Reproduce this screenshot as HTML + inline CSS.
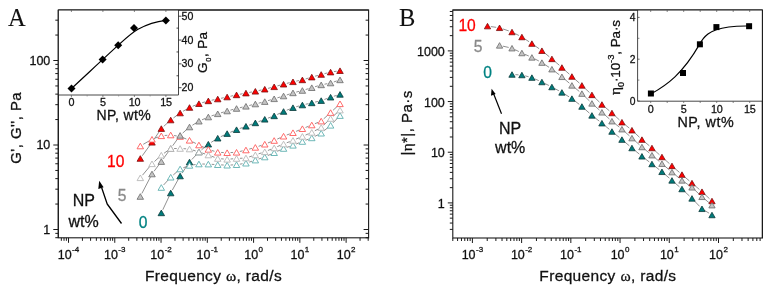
<!DOCTYPE html>
<html><head><meta charset="utf-8"><style>
html,body{margin:0;padding:0;background:#fff;width:771px;height:289px;overflow:hidden;}
svg{display:block;font-family:"Liberation Sans", sans-serif;will-change:transform;}
</style></head><body>
<svg width="771" height="289" viewBox="0 0 771 289">
<rect width="771" height="289" fill="#ffffff"/>
<rect x="58.3" y="10.0" width="310.30" height="227.80" fill="none" stroke="#1a1a1a" stroke-width="1.1"/>
<line x1="68.50" y1="237.80" x2="68.50" y2="242.80" stroke="#1a1a1a" stroke-width="1.0"/>
<line x1="114.77" y1="237.80" x2="114.77" y2="242.80" stroke="#1a1a1a" stroke-width="1.0"/>
<line x1="161.04" y1="237.80" x2="161.04" y2="242.80" stroke="#1a1a1a" stroke-width="1.0"/>
<line x1="207.31" y1="237.80" x2="207.31" y2="242.80" stroke="#1a1a1a" stroke-width="1.0"/>
<line x1="253.58" y1="237.80" x2="253.58" y2="242.80" stroke="#1a1a1a" stroke-width="1.0"/>
<line x1="299.85" y1="237.80" x2="299.85" y2="242.80" stroke="#1a1a1a" stroke-width="1.0"/>
<line x1="346.12" y1="237.80" x2="346.12" y2="242.80" stroke="#1a1a1a" stroke-width="1.0"/>
<line x1="61.33" y1="237.80" x2="61.33" y2="240.80" stroke="#1a1a1a" stroke-width="1.0"/>
<line x1="64.02" y1="237.80" x2="64.02" y2="240.80" stroke="#1a1a1a" stroke-width="1.0"/>
<line x1="66.38" y1="237.80" x2="66.38" y2="240.80" stroke="#1a1a1a" stroke-width="1.0"/>
<line x1="82.43" y1="237.80" x2="82.43" y2="240.80" stroke="#1a1a1a" stroke-width="1.0"/>
<line x1="90.58" y1="237.80" x2="90.58" y2="240.80" stroke="#1a1a1a" stroke-width="1.0"/>
<line x1="96.36" y1="237.80" x2="96.36" y2="240.80" stroke="#1a1a1a" stroke-width="1.0"/>
<line x1="100.84" y1="237.80" x2="100.84" y2="240.80" stroke="#1a1a1a" stroke-width="1.0"/>
<line x1="104.51" y1="237.80" x2="104.51" y2="240.80" stroke="#1a1a1a" stroke-width="1.0"/>
<line x1="107.60" y1="237.80" x2="107.60" y2="240.80" stroke="#1a1a1a" stroke-width="1.0"/>
<line x1="110.29" y1="237.80" x2="110.29" y2="240.80" stroke="#1a1a1a" stroke-width="1.0"/>
<line x1="112.65" y1="237.80" x2="112.65" y2="240.80" stroke="#1a1a1a" stroke-width="1.0"/>
<line x1="128.70" y1="237.80" x2="128.70" y2="240.80" stroke="#1a1a1a" stroke-width="1.0"/>
<line x1="136.85" y1="237.80" x2="136.85" y2="240.80" stroke="#1a1a1a" stroke-width="1.0"/>
<line x1="142.63" y1="237.80" x2="142.63" y2="240.80" stroke="#1a1a1a" stroke-width="1.0"/>
<line x1="147.11" y1="237.80" x2="147.11" y2="240.80" stroke="#1a1a1a" stroke-width="1.0"/>
<line x1="150.78" y1="237.80" x2="150.78" y2="240.80" stroke="#1a1a1a" stroke-width="1.0"/>
<line x1="153.87" y1="237.80" x2="153.87" y2="240.80" stroke="#1a1a1a" stroke-width="1.0"/>
<line x1="156.56" y1="237.80" x2="156.56" y2="240.80" stroke="#1a1a1a" stroke-width="1.0"/>
<line x1="158.92" y1="237.80" x2="158.92" y2="240.80" stroke="#1a1a1a" stroke-width="1.0"/>
<line x1="174.97" y1="237.80" x2="174.97" y2="240.80" stroke="#1a1a1a" stroke-width="1.0"/>
<line x1="183.12" y1="237.80" x2="183.12" y2="240.80" stroke="#1a1a1a" stroke-width="1.0"/>
<line x1="188.90" y1="237.80" x2="188.90" y2="240.80" stroke="#1a1a1a" stroke-width="1.0"/>
<line x1="193.38" y1="237.80" x2="193.38" y2="240.80" stroke="#1a1a1a" stroke-width="1.0"/>
<line x1="197.05" y1="237.80" x2="197.05" y2="240.80" stroke="#1a1a1a" stroke-width="1.0"/>
<line x1="200.14" y1="237.80" x2="200.14" y2="240.80" stroke="#1a1a1a" stroke-width="1.0"/>
<line x1="202.83" y1="237.80" x2="202.83" y2="240.80" stroke="#1a1a1a" stroke-width="1.0"/>
<line x1="205.19" y1="237.80" x2="205.19" y2="240.80" stroke="#1a1a1a" stroke-width="1.0"/>
<line x1="221.24" y1="237.80" x2="221.24" y2="240.80" stroke="#1a1a1a" stroke-width="1.0"/>
<line x1="229.39" y1="237.80" x2="229.39" y2="240.80" stroke="#1a1a1a" stroke-width="1.0"/>
<line x1="235.17" y1="237.80" x2="235.17" y2="240.80" stroke="#1a1a1a" stroke-width="1.0"/>
<line x1="239.65" y1="237.80" x2="239.65" y2="240.80" stroke="#1a1a1a" stroke-width="1.0"/>
<line x1="243.32" y1="237.80" x2="243.32" y2="240.80" stroke="#1a1a1a" stroke-width="1.0"/>
<line x1="246.41" y1="237.80" x2="246.41" y2="240.80" stroke="#1a1a1a" stroke-width="1.0"/>
<line x1="249.10" y1="237.80" x2="249.10" y2="240.80" stroke="#1a1a1a" stroke-width="1.0"/>
<line x1="251.46" y1="237.80" x2="251.46" y2="240.80" stroke="#1a1a1a" stroke-width="1.0"/>
<line x1="267.51" y1="237.80" x2="267.51" y2="240.80" stroke="#1a1a1a" stroke-width="1.0"/>
<line x1="275.66" y1="237.80" x2="275.66" y2="240.80" stroke="#1a1a1a" stroke-width="1.0"/>
<line x1="281.44" y1="237.80" x2="281.44" y2="240.80" stroke="#1a1a1a" stroke-width="1.0"/>
<line x1="285.92" y1="237.80" x2="285.92" y2="240.80" stroke="#1a1a1a" stroke-width="1.0"/>
<line x1="289.59" y1="237.80" x2="289.59" y2="240.80" stroke="#1a1a1a" stroke-width="1.0"/>
<line x1="292.68" y1="237.80" x2="292.68" y2="240.80" stroke="#1a1a1a" stroke-width="1.0"/>
<line x1="295.37" y1="237.80" x2="295.37" y2="240.80" stroke="#1a1a1a" stroke-width="1.0"/>
<line x1="297.73" y1="237.80" x2="297.73" y2="240.80" stroke="#1a1a1a" stroke-width="1.0"/>
<line x1="313.78" y1="237.80" x2="313.78" y2="240.80" stroke="#1a1a1a" stroke-width="1.0"/>
<line x1="321.93" y1="237.80" x2="321.93" y2="240.80" stroke="#1a1a1a" stroke-width="1.0"/>
<line x1="327.71" y1="237.80" x2="327.71" y2="240.80" stroke="#1a1a1a" stroke-width="1.0"/>
<line x1="332.19" y1="237.80" x2="332.19" y2="240.80" stroke="#1a1a1a" stroke-width="1.0"/>
<line x1="335.86" y1="237.80" x2="335.86" y2="240.80" stroke="#1a1a1a" stroke-width="1.0"/>
<line x1="338.95" y1="237.80" x2="338.95" y2="240.80" stroke="#1a1a1a" stroke-width="1.0"/>
<line x1="341.64" y1="237.80" x2="341.64" y2="240.80" stroke="#1a1a1a" stroke-width="1.0"/>
<line x1="344.00" y1="237.80" x2="344.00" y2="240.80" stroke="#1a1a1a" stroke-width="1.0"/>
<line x1="360.05" y1="237.80" x2="360.05" y2="240.80" stroke="#1a1a1a" stroke-width="1.0"/>
<line x1="368.20" y1="237.80" x2="368.20" y2="240.80" stroke="#1a1a1a" stroke-width="1.0"/>
<line x1="53.30" y1="229.50" x2="58.30" y2="229.50" stroke="#1a1a1a" stroke-width="1.0"/>
<line x1="363.60" y1="229.50" x2="368.60" y2="229.50" stroke="#1a1a1a" stroke-width="1.0"/>
<line x1="53.30" y1="145.00" x2="58.30" y2="145.00" stroke="#1a1a1a" stroke-width="1.0"/>
<line x1="363.60" y1="145.00" x2="368.60" y2="145.00" stroke="#1a1a1a" stroke-width="1.0"/>
<line x1="53.30" y1="60.50" x2="58.30" y2="60.50" stroke="#1a1a1a" stroke-width="1.0"/>
<line x1="363.60" y1="60.50" x2="368.60" y2="60.50" stroke="#1a1a1a" stroke-width="1.0"/>
<line x1="55.30" y1="237.69" x2="58.30" y2="237.69" stroke="#1a1a1a" stroke-width="1.0"/>
<line x1="365.60" y1="237.69" x2="368.60" y2="237.69" stroke="#1a1a1a" stroke-width="1.0"/>
<line x1="55.30" y1="233.37" x2="58.30" y2="233.37" stroke="#1a1a1a" stroke-width="1.0"/>
<line x1="365.60" y1="233.37" x2="368.60" y2="233.37" stroke="#1a1a1a" stroke-width="1.0"/>
<line x1="55.30" y1="204.06" x2="58.30" y2="204.06" stroke="#1a1a1a" stroke-width="1.0"/>
<line x1="365.60" y1="204.06" x2="368.60" y2="204.06" stroke="#1a1a1a" stroke-width="1.0"/>
<line x1="55.30" y1="189.18" x2="58.30" y2="189.18" stroke="#1a1a1a" stroke-width="1.0"/>
<line x1="365.60" y1="189.18" x2="368.60" y2="189.18" stroke="#1a1a1a" stroke-width="1.0"/>
<line x1="55.30" y1="178.63" x2="58.30" y2="178.63" stroke="#1a1a1a" stroke-width="1.0"/>
<line x1="365.60" y1="178.63" x2="368.60" y2="178.63" stroke="#1a1a1a" stroke-width="1.0"/>
<line x1="55.30" y1="170.44" x2="58.30" y2="170.44" stroke="#1a1a1a" stroke-width="1.0"/>
<line x1="365.60" y1="170.44" x2="368.60" y2="170.44" stroke="#1a1a1a" stroke-width="1.0"/>
<line x1="55.30" y1="163.75" x2="58.30" y2="163.75" stroke="#1a1a1a" stroke-width="1.0"/>
<line x1="365.60" y1="163.75" x2="368.60" y2="163.75" stroke="#1a1a1a" stroke-width="1.0"/>
<line x1="55.30" y1="158.09" x2="58.30" y2="158.09" stroke="#1a1a1a" stroke-width="1.0"/>
<line x1="365.60" y1="158.09" x2="368.60" y2="158.09" stroke="#1a1a1a" stroke-width="1.0"/>
<line x1="55.30" y1="153.19" x2="58.30" y2="153.19" stroke="#1a1a1a" stroke-width="1.0"/>
<line x1="365.60" y1="153.19" x2="368.60" y2="153.19" stroke="#1a1a1a" stroke-width="1.0"/>
<line x1="55.30" y1="148.87" x2="58.30" y2="148.87" stroke="#1a1a1a" stroke-width="1.0"/>
<line x1="365.60" y1="148.87" x2="368.60" y2="148.87" stroke="#1a1a1a" stroke-width="1.0"/>
<line x1="55.30" y1="119.56" x2="58.30" y2="119.56" stroke="#1a1a1a" stroke-width="1.0"/>
<line x1="365.60" y1="119.56" x2="368.60" y2="119.56" stroke="#1a1a1a" stroke-width="1.0"/>
<line x1="55.30" y1="104.68" x2="58.30" y2="104.68" stroke="#1a1a1a" stroke-width="1.0"/>
<line x1="365.60" y1="104.68" x2="368.60" y2="104.68" stroke="#1a1a1a" stroke-width="1.0"/>
<line x1="55.30" y1="94.13" x2="58.30" y2="94.13" stroke="#1a1a1a" stroke-width="1.0"/>
<line x1="365.60" y1="94.13" x2="368.60" y2="94.13" stroke="#1a1a1a" stroke-width="1.0"/>
<line x1="55.30" y1="85.94" x2="58.30" y2="85.94" stroke="#1a1a1a" stroke-width="1.0"/>
<line x1="365.60" y1="85.94" x2="368.60" y2="85.94" stroke="#1a1a1a" stroke-width="1.0"/>
<line x1="55.30" y1="79.25" x2="58.30" y2="79.25" stroke="#1a1a1a" stroke-width="1.0"/>
<line x1="365.60" y1="79.25" x2="368.60" y2="79.25" stroke="#1a1a1a" stroke-width="1.0"/>
<line x1="55.30" y1="73.59" x2="58.30" y2="73.59" stroke="#1a1a1a" stroke-width="1.0"/>
<line x1="365.60" y1="73.59" x2="368.60" y2="73.59" stroke="#1a1a1a" stroke-width="1.0"/>
<line x1="55.30" y1="68.69" x2="58.30" y2="68.69" stroke="#1a1a1a" stroke-width="1.0"/>
<line x1="365.60" y1="68.69" x2="368.60" y2="68.69" stroke="#1a1a1a" stroke-width="1.0"/>
<line x1="55.30" y1="64.37" x2="58.30" y2="64.37" stroke="#1a1a1a" stroke-width="1.0"/>
<line x1="365.60" y1="64.37" x2="368.60" y2="64.37" stroke="#1a1a1a" stroke-width="1.0"/>
<line x1="55.30" y1="35.06" x2="58.30" y2="35.06" stroke="#1a1a1a" stroke-width="1.0"/>
<line x1="365.60" y1="35.06" x2="368.60" y2="35.06" stroke="#1a1a1a" stroke-width="1.0"/>
<line x1="55.30" y1="20.18" x2="58.30" y2="20.18" stroke="#1a1a1a" stroke-width="1.0"/>
<line x1="365.60" y1="20.18" x2="368.60" y2="20.18" stroke="#1a1a1a" stroke-width="1.0"/>
<text stroke="#111" stroke-width="0.28" x="68.50" y="258.8" font-size="12.5" text-anchor="middle" fill="#111" font-family='"Liberation Sans", sans-serif'>10<tspan font-size="8" dy="-6.3" dx="0.4">-4</tspan></text>
<text stroke="#111" stroke-width="0.28" x="114.77" y="258.8" font-size="12.5" text-anchor="middle" fill="#111" font-family='"Liberation Sans", sans-serif'>10<tspan font-size="8" dy="-6.3" dx="0.4">-3</tspan></text>
<text stroke="#111" stroke-width="0.28" x="161.04" y="258.8" font-size="12.5" text-anchor="middle" fill="#111" font-family='"Liberation Sans", sans-serif'>10<tspan font-size="8" dy="-6.3" dx="0.4">-2</tspan></text>
<text stroke="#111" stroke-width="0.28" x="207.31" y="258.8" font-size="12.5" text-anchor="middle" fill="#111" font-family='"Liberation Sans", sans-serif'>10<tspan font-size="8" dy="-6.3" dx="0.4">-1</tspan></text>
<text stroke="#111" stroke-width="0.28" x="253.58" y="258.8" font-size="12.5" text-anchor="middle" fill="#111" font-family='"Liberation Sans", sans-serif'>10<tspan font-size="8" dy="-6.3" dx="0.4">0</tspan></text>
<text stroke="#111" stroke-width="0.28" x="299.85" y="258.8" font-size="12.5" text-anchor="middle" fill="#111" font-family='"Liberation Sans", sans-serif'>10<tspan font-size="8" dy="-6.3" dx="0.4">1</tspan></text>
<text stroke="#111" stroke-width="0.28" x="346.12" y="258.8" font-size="12.5" text-anchor="middle" fill="#111" font-family='"Liberation Sans", sans-serif'>10<tspan font-size="8" dy="-6.3" dx="0.4">2</tspan></text>
<text stroke="#111" stroke-width="0.28" x="50.30" y="233.60" font-size="12.5" text-anchor="end" fill="#111" font-family='"Liberation Sans", sans-serif' >1</text>
<text stroke="#111" stroke-width="0.28" x="50.30" y="149.10" font-size="12.5" text-anchor="end" fill="#111" font-family='"Liberation Sans", sans-serif' >10</text>
<text stroke="#111" stroke-width="0.28" x="50.30" y="64.60" font-size="12.5" text-anchor="end" fill="#111" font-family='"Liberation Sans", sans-serif' >100</text>
<path d="M142.29,155.74L150.01,145.06M153.91,139.49L159.39,131.41M163.81,126.31L168.20,122.29M173.43,117.97L177.38,115.03M183.04,111.28L186.58,109.22M192.67,106.23L195.77,104.97M202.18,102.73L205.07,101.87M211.66,100.23L214.40,99.67M221.06,98.29L223.81,97.71M230.45,96.26L233.22,95.64M239.88,94.26L242.61,93.74M249.28,92.46L252.01,91.94M258.67,90.56L261.44,89.94M268.05,88.36L270.87,87.64M277.44,85.89L280.29,85.11M286.86,83.36L289.68,82.64M296.30,81.13L299.04,80.57M305.63,78.93L308.52,78.07M315.06,76.19L317.91,75.41M324.48,73.66L327.30,72.94M333.95,71.60L336.63,71.20" fill="none" stroke="#555555" stroke-width="0.65"/>
<path d="M143.25,144.31L149.05,140.99M155.18,138.10L158.12,137.00M164.69,135.51L167.32,135.29M174.06,135.54L176.75,135.96M183.26,137.77L186.36,139.03M192.56,141.82L195.88,143.48M202.00,146.44L205.25,147.96M211.57,150.40L214.48,151.30M221.13,152.44L223.74,152.56M230.53,152.56L233.14,152.44M239.84,151.49L242.64,150.81M249.22,149.09L252.07,148.31M258.57,146.30L261.54,145.30M267.92,142.96L271.00,141.74M277.25,139.09L280.47,137.61M286.75,135.01L289.78,133.89M296.10,131.37L299.25,130.03M305.54,127.46L308.62,126.24M314.92,123.70L318.04,122.40M323.71,118.82L328.07,114.88M333.07,110.28L337.51,106.12" fill="none" stroke="#555555" stroke-width="0.65"/>
<path d="M141.87,193.48L150.43,177.02M154.04,171.28L159.26,164.32M163.28,158.84L168.72,151.26M172.69,145.74L178.13,138.16M182.65,133.14L186.98,129.26M192.41,125.22L196.03,122.98M202.02,119.81L205.22,118.39M211.54,115.90L214.51,114.90M220.99,112.83L223.88,111.97M230.42,110.13L233.25,109.37M239.85,107.73L242.63,107.07M249.25,105.49L252.05,104.81M258.64,103.16L261.46,102.44M268.01,100.63L270.90,99.77M277.42,97.83L280.31,96.97M286.79,94.94L289.74,93.96M296.26,92.06L299.08,91.34M305.63,89.53L308.52,88.67M315.04,86.73L317.93,85.87M324.52,84.23L327.26,83.67M333.82,81.94L336.77,80.96" fill="none" stroke="#555555" stroke-width="0.65"/>
<path d="M142.48,175.19L149.82,166.41M154.50,161.49L158.80,157.51M164.07,153.23L167.94,150.47M174.11,148.50L176.71,148.50M183.51,148.68L186.12,148.82M192.75,150.03L195.68,150.97M202.16,153.03L205.09,153.97M211.51,156.19L214.54,157.31M221.12,158.79L223.75,159.01M230.52,159.01L233.15,158.79M239.94,158.32L242.55,158.18M249.17,156.94L252.12,155.96M258.58,153.84L261.53,152.86M267.90,150.50L271.02,149.20M277.30,146.60L280.42,145.30M286.74,142.78L289.79,141.62M296.10,139.07L299.25,137.73M305.50,135.07L308.65,133.73M314.80,130.83L318.17,129.07M323.64,125.15L328.13,120.85M333.13,116.24L337.46,112.36" fill="none" stroke="#555555" stroke-width="0.65"/>
<path d="M162.75,209.83L169.25,196.07M172.35,190.02L178.46,178.98M182.01,173.18L187.62,164.82M191.84,159.52L196.59,154.48M201.54,149.83L205.71,146.37M211.19,142.37L214.86,140.03M220.78,136.71L224.08,135.09M230.28,132.30L233.40,131.00M239.74,128.54L242.75,127.46M249.14,125.14L252.15,124.06M258.53,121.68L261.58,120.52M267.95,118.14L270.96,117.06M277.24,114.46L280.49,112.94M286.72,110.23L289.82,108.97M296.24,106.76L299.11,105.94M305.69,104.26L308.46,103.64M315.08,102.09L317.88,101.41M324.38,99.44L327.39,98.36M333.85,96.23L336.74,95.37" fill="none" stroke="#555555" stroke-width="0.65"/>
<path d="M163.59,184.99L168.41,179.71M173.27,174.97L177.55,171.23M183.29,167.78L186.34,166.62M192.88,164.90L195.56,164.50M202.32,164.04L204.93,164.06M211.72,164.32L214.34,164.48M221.13,164.88L223.74,165.02M230.53,165.02L233.14,164.88M239.90,164.16L242.59,163.74M249.17,162.14L252.12,161.16M258.58,159.04L261.53,158.06M267.85,155.59L271.07,154.11M277.26,151.31L280.46,149.89M286.78,147.40L289.75,146.40M296.12,144.03L299.22,142.77M305.55,140.28L308.60,139.12M314.82,136.38L318.14,134.72M323.79,131.01L327.99,127.49M332.96,122.86L337.63,118.04" fill="none" stroke="#555555" stroke-width="0.65"/>
<polygon points="161.30,210.10 158.05,215.70 164.55,215.70" fill="#007b7b" stroke="#0a3a3a" stroke-width="0.8" stroke-linejoin="miter"/>
<polygon points="170.71,190.20 167.46,195.80 173.96,195.80" fill="#007b7b" stroke="#0a3a3a" stroke-width="0.8" stroke-linejoin="miter"/>
<polygon points="180.11,173.20 176.86,178.80 183.36,178.80" fill="#007b7b" stroke="#0a3a3a" stroke-width="0.8" stroke-linejoin="miter"/>
<polygon points="189.52,159.20 186.27,164.80 192.77,164.80" fill="#007b7b" stroke="#0a3a3a" stroke-width="0.8" stroke-linejoin="miter"/>
<polygon points="198.92,149.20 195.67,154.80 202.17,154.80" fill="#007b7b" stroke="#0a3a3a" stroke-width="0.8" stroke-linejoin="miter"/>
<polygon points="208.33,141.40 205.08,147.00 211.58,147.00" fill="#007b7b" stroke="#0a3a3a" stroke-width="0.8" stroke-linejoin="miter"/>
<polygon points="217.73,135.40 214.48,141.00 220.98,141.00" fill="#007b7b" stroke="#0a3a3a" stroke-width="0.8" stroke-linejoin="miter"/>
<polygon points="227.13,130.80 223.88,136.40 230.38,136.40" fill="#007b7b" stroke="#0a3a3a" stroke-width="0.8" stroke-linejoin="miter"/>
<polygon points="236.54,126.90 233.29,132.50 239.79,132.50" fill="#007b7b" stroke="#0a3a3a" stroke-width="0.8" stroke-linejoin="miter"/>
<polygon points="245.94,123.50 242.69,129.10 249.19,129.10" fill="#007b7b" stroke="#0a3a3a" stroke-width="0.8" stroke-linejoin="miter"/>
<polygon points="255.35,120.10 252.10,125.70 258.60,125.70" fill="#007b7b" stroke="#0a3a3a" stroke-width="0.8" stroke-linejoin="miter"/>
<polygon points="264.75,116.50 261.50,122.10 268.00,122.10" fill="#007b7b" stroke="#0a3a3a" stroke-width="0.8" stroke-linejoin="miter"/>
<polygon points="274.16,113.10 270.91,118.70 277.41,118.70" fill="#007b7b" stroke="#0a3a3a" stroke-width="0.8" stroke-linejoin="miter"/>
<polygon points="283.56,108.70 280.31,114.30 286.81,114.30" fill="#007b7b" stroke="#0a3a3a" stroke-width="0.8" stroke-linejoin="miter"/>
<polygon points="292.97,104.90 289.72,110.50 296.22,110.50" fill="#007b7b" stroke="#0a3a3a" stroke-width="0.8" stroke-linejoin="miter"/>
<polygon points="302.38,102.20 299.12,107.80 305.62,107.80" fill="#007b7b" stroke="#0a3a3a" stroke-width="0.8" stroke-linejoin="miter"/>
<polygon points="311.78,100.10 308.53,105.70 315.03,105.70" fill="#007b7b" stroke="#0a3a3a" stroke-width="0.8" stroke-linejoin="miter"/>
<polygon points="321.19,97.80 317.94,103.40 324.44,103.40" fill="#007b7b" stroke="#0a3a3a" stroke-width="0.8" stroke-linejoin="miter"/>
<polygon points="330.59,94.40 327.34,100.00 333.84,100.00" fill="#007b7b" stroke="#0a3a3a" stroke-width="0.8" stroke-linejoin="miter"/>
<polygon points="340.00,91.60 336.75,97.20 343.25,97.20" fill="#007b7b" stroke="#0a3a3a" stroke-width="0.8" stroke-linejoin="miter"/>
<polygon points="161.30,184.70 158.05,190.30 164.55,190.30" fill="#ffffff" stroke="#5fb0b0" stroke-width="0.9" stroke-linejoin="miter"/>
<polygon points="170.71,174.40 167.46,180.00 173.96,180.00" fill="#ffffff" stroke="#5fb0b0" stroke-width="0.9" stroke-linejoin="miter"/>
<polygon points="180.11,166.20 176.86,171.80 183.36,171.80" fill="#ffffff" stroke="#5fb0b0" stroke-width="0.9" stroke-linejoin="miter"/>
<polygon points="189.52,162.60 186.27,168.20 192.77,168.20" fill="#ffffff" stroke="#5fb0b0" stroke-width="0.9" stroke-linejoin="miter"/>
<polygon points="198.92,161.20 195.67,166.80 202.17,166.80" fill="#ffffff" stroke="#5fb0b0" stroke-width="0.9" stroke-linejoin="miter"/>
<polygon points="208.33,161.30 205.08,166.90 211.58,166.90" fill="#ffffff" stroke="#5fb0b0" stroke-width="0.9" stroke-linejoin="miter"/>
<polygon points="217.73,161.90 214.48,167.50 220.98,167.50" fill="#ffffff" stroke="#5fb0b0" stroke-width="0.9" stroke-linejoin="miter"/>
<polygon points="227.13,162.40 223.88,168.00 230.38,168.00" fill="#ffffff" stroke="#5fb0b0" stroke-width="0.9" stroke-linejoin="miter"/>
<polygon points="236.54,161.90 233.29,167.50 239.79,167.50" fill="#ffffff" stroke="#5fb0b0" stroke-width="0.9" stroke-linejoin="miter"/>
<polygon points="245.94,160.40 242.69,166.00 249.19,166.00" fill="#ffffff" stroke="#5fb0b0" stroke-width="0.9" stroke-linejoin="miter"/>
<polygon points="255.35,157.30 252.10,162.90 258.60,162.90" fill="#ffffff" stroke="#5fb0b0" stroke-width="0.9" stroke-linejoin="miter"/>
<polygon points="264.75,154.20 261.50,159.80 268.00,159.80" fill="#ffffff" stroke="#5fb0b0" stroke-width="0.9" stroke-linejoin="miter"/>
<polygon points="274.16,149.90 270.91,155.50 277.41,155.50" fill="#ffffff" stroke="#5fb0b0" stroke-width="0.9" stroke-linejoin="miter"/>
<polygon points="283.56,145.70 280.31,151.30 286.81,151.30" fill="#ffffff" stroke="#5fb0b0" stroke-width="0.9" stroke-linejoin="miter"/>
<polygon points="292.97,142.50 289.72,148.10 296.22,148.10" fill="#ffffff" stroke="#5fb0b0" stroke-width="0.9" stroke-linejoin="miter"/>
<polygon points="302.38,138.70 299.12,144.30 305.62,144.30" fill="#ffffff" stroke="#5fb0b0" stroke-width="0.9" stroke-linejoin="miter"/>
<polygon points="311.78,135.10 308.53,140.70 315.03,140.70" fill="#ffffff" stroke="#5fb0b0" stroke-width="0.9" stroke-linejoin="miter"/>
<polygon points="321.19,130.40 317.94,136.00 324.44,136.00" fill="#ffffff" stroke="#5fb0b0" stroke-width="0.9" stroke-linejoin="miter"/>
<polygon points="330.59,122.50 327.34,128.10 333.84,128.10" fill="#ffffff" stroke="#5fb0b0" stroke-width="0.9" stroke-linejoin="miter"/>
<polygon points="340.00,112.80 336.75,118.40 343.25,118.40" fill="#ffffff" stroke="#5fb0b0" stroke-width="0.9" stroke-linejoin="miter"/>
<polygon points="140.30,155.70 137.05,161.30 143.55,161.30" fill="#ff0000" stroke="#7a1010" stroke-width="0.8" stroke-linejoin="miter"/>
<polygon points="152.00,139.50 148.75,145.10 155.25,145.10" fill="#ff0000" stroke="#7a1010" stroke-width="0.8" stroke-linejoin="miter"/>
<polygon points="161.30,125.80 158.05,131.40 164.55,131.40" fill="#ff0000" stroke="#7a1010" stroke-width="0.8" stroke-linejoin="miter"/>
<polygon points="170.71,117.20 167.46,122.80 173.96,122.80" fill="#ff0000" stroke="#7a1010" stroke-width="0.8" stroke-linejoin="miter"/>
<polygon points="180.11,110.20 176.86,115.80 183.36,115.80" fill="#ff0000" stroke="#7a1010" stroke-width="0.8" stroke-linejoin="miter"/>
<polygon points="189.52,104.70 186.27,110.30 192.77,110.30" fill="#ff0000" stroke="#7a1010" stroke-width="0.8" stroke-linejoin="miter"/>
<polygon points="198.92,100.90 195.67,106.50 202.17,106.50" fill="#ff0000" stroke="#7a1010" stroke-width="0.8" stroke-linejoin="miter"/>
<polygon points="208.33,98.10 205.08,103.70 211.58,103.70" fill="#ff0000" stroke="#7a1010" stroke-width="0.8" stroke-linejoin="miter"/>
<polygon points="217.73,96.20 214.48,101.80 220.98,101.80" fill="#ff0000" stroke="#7a1010" stroke-width="0.8" stroke-linejoin="miter"/>
<polygon points="227.13,94.20 223.88,99.80 230.38,99.80" fill="#ff0000" stroke="#7a1010" stroke-width="0.8" stroke-linejoin="miter"/>
<polygon points="236.54,92.10 233.29,97.70 239.79,97.70" fill="#ff0000" stroke="#7a1010" stroke-width="0.8" stroke-linejoin="miter"/>
<polygon points="245.94,90.30 242.69,95.90 249.19,95.90" fill="#ff0000" stroke="#7a1010" stroke-width="0.8" stroke-linejoin="miter"/>
<polygon points="255.35,88.50 252.10,94.10 258.60,94.10" fill="#ff0000" stroke="#7a1010" stroke-width="0.8" stroke-linejoin="miter"/>
<polygon points="264.75,86.40 261.50,92.00 268.00,92.00" fill="#ff0000" stroke="#7a1010" stroke-width="0.8" stroke-linejoin="miter"/>
<polygon points="274.16,84.00 270.91,89.60 277.41,89.60" fill="#ff0000" stroke="#7a1010" stroke-width="0.8" stroke-linejoin="miter"/>
<polygon points="283.56,81.40 280.31,87.00 286.81,87.00" fill="#ff0000" stroke="#7a1010" stroke-width="0.8" stroke-linejoin="miter"/>
<polygon points="292.97,79.00 289.72,84.60 296.22,84.60" fill="#ff0000" stroke="#7a1010" stroke-width="0.8" stroke-linejoin="miter"/>
<polygon points="302.38,77.10 299.12,82.70 305.62,82.70" fill="#ff0000" stroke="#7a1010" stroke-width="0.8" stroke-linejoin="miter"/>
<polygon points="311.78,74.30 308.53,79.90 315.03,79.90" fill="#ff0000" stroke="#7a1010" stroke-width="0.8" stroke-linejoin="miter"/>
<polygon points="321.19,71.70 317.94,77.30 324.44,77.30" fill="#ff0000" stroke="#7a1010" stroke-width="0.8" stroke-linejoin="miter"/>
<polygon points="330.59,69.30 327.34,74.90 333.84,74.90" fill="#ff0000" stroke="#7a1010" stroke-width="0.8" stroke-linejoin="miter"/>
<polygon points="340.00,67.90 336.75,73.50 343.25,73.50" fill="#ff0000" stroke="#7a1010" stroke-width="0.8" stroke-linejoin="miter"/>
<polygon points="140.30,143.20 137.05,148.80 143.55,148.80" fill="#ffffff" stroke="#ff5a5a" stroke-width="0.9" stroke-linejoin="miter"/>
<polygon points="152.00,136.50 148.75,142.10 155.25,142.10" fill="#ffffff" stroke="#ff5a5a" stroke-width="0.9" stroke-linejoin="miter"/>
<polygon points="161.30,133.00 158.05,138.60 164.55,138.60" fill="#ffffff" stroke="#ff5a5a" stroke-width="0.9" stroke-linejoin="miter"/>
<polygon points="170.71,132.20 167.46,137.80 173.96,137.80" fill="#ffffff" stroke="#ff5a5a" stroke-width="0.9" stroke-linejoin="miter"/>
<polygon points="180.11,133.70 176.86,139.30 183.36,139.30" fill="#ffffff" stroke="#ff5a5a" stroke-width="0.9" stroke-linejoin="miter"/>
<polygon points="189.52,137.50 186.27,143.10 192.77,143.10" fill="#ffffff" stroke="#ff5a5a" stroke-width="0.9" stroke-linejoin="miter"/>
<polygon points="198.92,142.20 195.67,147.80 202.17,147.80" fill="#ffffff" stroke="#ff5a5a" stroke-width="0.9" stroke-linejoin="miter"/>
<polygon points="208.33,146.60 205.08,152.20 211.58,152.20" fill="#ffffff" stroke="#ff5a5a" stroke-width="0.9" stroke-linejoin="miter"/>
<polygon points="217.73,149.50 214.48,155.10 220.98,155.10" fill="#ffffff" stroke="#ff5a5a" stroke-width="0.9" stroke-linejoin="miter"/>
<polygon points="227.13,149.90 223.88,155.50 230.38,155.50" fill="#ffffff" stroke="#ff5a5a" stroke-width="0.9" stroke-linejoin="miter"/>
<polygon points="236.54,149.50 233.29,155.10 239.79,155.10" fill="#ffffff" stroke="#ff5a5a" stroke-width="0.9" stroke-linejoin="miter"/>
<polygon points="245.94,147.20 242.69,152.80 249.19,152.80" fill="#ffffff" stroke="#ff5a5a" stroke-width="0.9" stroke-linejoin="miter"/>
<polygon points="255.35,144.60 252.10,150.20 258.60,150.20" fill="#ffffff" stroke="#ff5a5a" stroke-width="0.9" stroke-linejoin="miter"/>
<polygon points="264.75,141.40 261.50,147.00 268.00,147.00" fill="#ffffff" stroke="#ff5a5a" stroke-width="0.9" stroke-linejoin="miter"/>
<polygon points="274.16,137.70 270.91,143.30 277.41,143.30" fill="#ffffff" stroke="#ff5a5a" stroke-width="0.9" stroke-linejoin="miter"/>
<polygon points="283.56,133.40 280.31,139.00 286.81,139.00" fill="#ffffff" stroke="#ff5a5a" stroke-width="0.9" stroke-linejoin="miter"/>
<polygon points="292.97,129.90 289.72,135.50 296.22,135.50" fill="#ffffff" stroke="#ff5a5a" stroke-width="0.9" stroke-linejoin="miter"/>
<polygon points="302.38,125.90 299.12,131.50 305.62,131.50" fill="#ffffff" stroke="#ff5a5a" stroke-width="0.9" stroke-linejoin="miter"/>
<polygon points="311.78,122.20 308.53,127.80 315.03,127.80" fill="#ffffff" stroke="#ff5a5a" stroke-width="0.9" stroke-linejoin="miter"/>
<polygon points="321.19,118.30 317.94,123.90 324.44,123.90" fill="#ffffff" stroke="#ff5a5a" stroke-width="0.9" stroke-linejoin="miter"/>
<polygon points="330.59,109.80 327.34,115.40 333.84,115.40" fill="#ffffff" stroke="#ff5a5a" stroke-width="0.9" stroke-linejoin="miter"/>
<polygon points="340.00,101.00 336.75,106.60 343.25,106.60" fill="#ffffff" stroke="#ff5a5a" stroke-width="0.9" stroke-linejoin="miter"/>
<polygon points="140.30,193.70 137.05,199.30 143.55,199.30" fill="#c4c4c4" stroke="#6a6a6a" stroke-width="0.8" stroke-linejoin="miter"/>
<polygon points="152.00,171.20 148.75,176.80 155.25,176.80" fill="#c4c4c4" stroke="#6a6a6a" stroke-width="0.8" stroke-linejoin="miter"/>
<polygon points="161.30,158.80 158.05,164.40 164.55,164.40" fill="#c4c4c4" stroke="#6a6a6a" stroke-width="0.8" stroke-linejoin="miter"/>
<polygon points="170.71,145.70 167.46,151.30 173.96,151.30" fill="#c4c4c4" stroke="#6a6a6a" stroke-width="0.8" stroke-linejoin="miter"/>
<polygon points="180.11,132.60 176.86,138.20 183.36,138.20" fill="#c4c4c4" stroke="#6a6a6a" stroke-width="0.8" stroke-linejoin="miter"/>
<polygon points="189.52,124.20 186.27,129.80 192.77,129.80" fill="#c4c4c4" stroke="#6a6a6a" stroke-width="0.8" stroke-linejoin="miter"/>
<polygon points="198.92,118.40 195.67,124.00 202.17,124.00" fill="#c4c4c4" stroke="#6a6a6a" stroke-width="0.8" stroke-linejoin="miter"/>
<polygon points="208.33,114.20 205.08,119.80 211.58,119.80" fill="#c4c4c4" stroke="#6a6a6a" stroke-width="0.8" stroke-linejoin="miter"/>
<polygon points="217.73,111.00 214.48,116.60 220.98,116.60" fill="#c4c4c4" stroke="#6a6a6a" stroke-width="0.8" stroke-linejoin="miter"/>
<polygon points="227.13,108.20 223.88,113.80 230.38,113.80" fill="#c4c4c4" stroke="#6a6a6a" stroke-width="0.8" stroke-linejoin="miter"/>
<polygon points="236.54,105.70 233.29,111.30 239.79,111.30" fill="#c4c4c4" stroke="#6a6a6a" stroke-width="0.8" stroke-linejoin="miter"/>
<polygon points="245.94,103.50 242.69,109.10 249.19,109.10" fill="#c4c4c4" stroke="#6a6a6a" stroke-width="0.8" stroke-linejoin="miter"/>
<polygon points="255.35,101.20 252.10,106.80 258.60,106.80" fill="#c4c4c4" stroke="#6a6a6a" stroke-width="0.8" stroke-linejoin="miter"/>
<polygon points="264.75,98.80 261.50,104.40 268.00,104.40" fill="#c4c4c4" stroke="#6a6a6a" stroke-width="0.8" stroke-linejoin="miter"/>
<polygon points="274.16,96.00 270.91,101.60 277.41,101.60" fill="#c4c4c4" stroke="#6a6a6a" stroke-width="0.8" stroke-linejoin="miter"/>
<polygon points="283.56,93.20 280.31,98.80 286.81,98.80" fill="#c4c4c4" stroke="#6a6a6a" stroke-width="0.8" stroke-linejoin="miter"/>
<polygon points="292.97,90.10 289.72,95.70 296.22,95.70" fill="#c4c4c4" stroke="#6a6a6a" stroke-width="0.8" stroke-linejoin="miter"/>
<polygon points="302.38,87.70 299.12,93.30 305.62,93.30" fill="#c4c4c4" stroke="#6a6a6a" stroke-width="0.8" stroke-linejoin="miter"/>
<polygon points="311.78,84.90 308.53,90.50 315.03,90.50" fill="#c4c4c4" stroke="#6a6a6a" stroke-width="0.8" stroke-linejoin="miter"/>
<polygon points="321.19,82.10 317.94,87.70 324.44,87.70" fill="#c4c4c4" stroke="#6a6a6a" stroke-width="0.8" stroke-linejoin="miter"/>
<polygon points="330.59,80.20 327.34,85.80 333.84,85.80" fill="#c4c4c4" stroke="#6a6a6a" stroke-width="0.8" stroke-linejoin="miter"/>
<polygon points="340.00,77.10 336.75,82.70 343.25,82.70" fill="#c4c4c4" stroke="#6a6a6a" stroke-width="0.8" stroke-linejoin="miter"/>
<polygon points="140.30,175.00 137.05,180.60 143.55,180.60" fill="#ffffff" stroke="#b8b8b8" stroke-width="0.9" stroke-linejoin="miter"/>
<polygon points="152.00,161.00 148.75,166.60 155.25,166.60" fill="#ffffff" stroke="#b8b8b8" stroke-width="0.9" stroke-linejoin="miter"/>
<polygon points="161.30,152.40 158.05,158.00 164.55,158.00" fill="#ffffff" stroke="#b8b8b8" stroke-width="0.9" stroke-linejoin="miter"/>
<polygon points="170.71,145.70 167.46,151.30 173.96,151.30" fill="#ffffff" stroke="#b8b8b8" stroke-width="0.9" stroke-linejoin="miter"/>
<polygon points="180.11,145.70 176.86,151.30 183.36,151.30" fill="#ffffff" stroke="#b8b8b8" stroke-width="0.9" stroke-linejoin="miter"/>
<polygon points="189.52,146.20 186.27,151.80 192.77,151.80" fill="#ffffff" stroke="#b8b8b8" stroke-width="0.9" stroke-linejoin="miter"/>
<polygon points="198.92,149.20 195.67,154.80 202.17,154.80" fill="#ffffff" stroke="#b8b8b8" stroke-width="0.9" stroke-linejoin="miter"/>
<polygon points="208.33,152.20 205.08,157.80 211.58,157.80" fill="#ffffff" stroke="#b8b8b8" stroke-width="0.9" stroke-linejoin="miter"/>
<polygon points="217.73,155.70 214.48,161.30 220.98,161.30" fill="#ffffff" stroke="#b8b8b8" stroke-width="0.9" stroke-linejoin="miter"/>
<polygon points="227.13,156.50 223.88,162.10 230.38,162.10" fill="#ffffff" stroke="#b8b8b8" stroke-width="0.9" stroke-linejoin="miter"/>
<polygon points="236.54,155.70 233.29,161.30 239.79,161.30" fill="#ffffff" stroke="#b8b8b8" stroke-width="0.9" stroke-linejoin="miter"/>
<polygon points="245.94,155.20 242.69,160.80 249.19,160.80" fill="#ffffff" stroke="#b8b8b8" stroke-width="0.9" stroke-linejoin="miter"/>
<polygon points="255.35,152.10 252.10,157.70 258.60,157.70" fill="#ffffff" stroke="#b8b8b8" stroke-width="0.9" stroke-linejoin="miter"/>
<polygon points="264.75,149.00 261.50,154.60 268.00,154.60" fill="#ffffff" stroke="#b8b8b8" stroke-width="0.9" stroke-linejoin="miter"/>
<polygon points="274.16,145.10 270.91,150.70 277.41,150.70" fill="#ffffff" stroke="#b8b8b8" stroke-width="0.9" stroke-linejoin="miter"/>
<polygon points="283.56,141.20 280.31,146.80 286.81,146.80" fill="#ffffff" stroke="#b8b8b8" stroke-width="0.9" stroke-linejoin="miter"/>
<polygon points="292.97,137.60 289.72,143.20 296.22,143.20" fill="#ffffff" stroke="#b8b8b8" stroke-width="0.9" stroke-linejoin="miter"/>
<polygon points="302.38,133.60 299.12,139.20 305.62,139.20" fill="#ffffff" stroke="#b8b8b8" stroke-width="0.9" stroke-linejoin="miter"/>
<polygon points="311.78,129.60 308.53,135.20 315.03,135.20" fill="#ffffff" stroke="#b8b8b8" stroke-width="0.9" stroke-linejoin="miter"/>
<polygon points="321.19,124.70 317.94,130.30 324.44,130.30" fill="#ffffff" stroke="#b8b8b8" stroke-width="0.9" stroke-linejoin="miter"/>
<polygon points="330.59,115.70 327.34,121.30 333.84,121.30" fill="#ffffff" stroke="#b8b8b8" stroke-width="0.9" stroke-linejoin="miter"/>
<polygon points="340.00,107.30 336.75,112.90 343.25,112.90" fill="#ffffff" stroke="#b8b8b8" stroke-width="0.9" stroke-linejoin="miter"/>
<rect x="58.3" y="10.0" width="120.20" height="85.00" fill="#ffffff"/>
<line x1="178.50" y1="10.00" x2="178.50" y2="95.00" stroke="#333" stroke-width="0.9"/>
<line x1="58.30" y1="95.00" x2="178.50" y2="95.00" stroke="#333" stroke-width="0.9"/>
<line x1="58.30" y1="10.00" x2="368.60" y2="10.00" stroke="#1a1a1a" stroke-width="1.1"/>
<line x1="58.30" y1="10.00" x2="58.30" y2="237.80" stroke="#1a1a1a" stroke-width="1.1"/>
<line x1="71.40" y1="95.00" x2="71.40" y2="97.00" stroke="#555" stroke-width="0.7"/>
<line x1="71.40" y1="10.00" x2="71.40" y2="12.00" stroke="#555" stroke-width="0.7"/>
<line x1="87.15" y1="95.00" x2="87.15" y2="96.50" stroke="#777" stroke-width="0.6"/>
<line x1="102.90" y1="95.00" x2="102.90" y2="97.00" stroke="#555" stroke-width="0.7"/>
<line x1="102.90" y1="10.00" x2="102.90" y2="12.00" stroke="#555" stroke-width="0.7"/>
<line x1="118.65" y1="95.00" x2="118.65" y2="96.50" stroke="#777" stroke-width="0.6"/>
<line x1="134.40" y1="95.00" x2="134.40" y2="97.00" stroke="#555" stroke-width="0.7"/>
<line x1="134.40" y1="10.00" x2="134.40" y2="12.00" stroke="#555" stroke-width="0.7"/>
<line x1="150.15" y1="95.00" x2="150.15" y2="96.50" stroke="#777" stroke-width="0.6"/>
<line x1="165.90" y1="95.00" x2="165.90" y2="97.00" stroke="#555" stroke-width="0.7"/>
<line x1="165.90" y1="10.00" x2="165.90" y2="12.00" stroke="#555" stroke-width="0.7"/>
<line x1="178.50" y1="87.70" x2="181.50" y2="87.70" stroke="#1a1a1a" stroke-width="0.8"/>
<text stroke="#111" stroke-width="0.28" x="181.50" y="91.20" font-size="10.6" text-anchor="start" fill="#111" font-family='"Liberation Sans", sans-serif' >20</text>
<line x1="178.50" y1="63.87" x2="181.50" y2="63.87" stroke="#1a1a1a" stroke-width="0.8"/>
<text stroke="#111" stroke-width="0.28" x="181.50" y="67.37" font-size="10.6" text-anchor="start" fill="#111" font-family='"Liberation Sans", sans-serif' >30</text>
<line x1="178.50" y1="40.04" x2="181.50" y2="40.04" stroke="#1a1a1a" stroke-width="0.8"/>
<text stroke="#111" stroke-width="0.28" x="181.50" y="43.54" font-size="10.6" text-anchor="start" fill="#111" font-family='"Liberation Sans", sans-serif' >40</text>
<line x1="178.50" y1="16.21" x2="181.50" y2="16.21" stroke="#1a1a1a" stroke-width="0.8"/>
<text stroke="#111" stroke-width="0.28" x="181.50" y="19.71" font-size="10.6" text-anchor="start" fill="#111" font-family='"Liberation Sans", sans-serif' >50</text>
<line x1="178.50" y1="75.78" x2="176.50" y2="75.78" stroke="#1a1a1a" stroke-width="0.8"/>
<line x1="178.50" y1="51.96" x2="176.50" y2="51.96" stroke="#1a1a1a" stroke-width="0.8"/>
<line x1="178.50" y1="28.12" x2="176.50" y2="28.12" stroke="#1a1a1a" stroke-width="0.8"/>
<text stroke="#111" stroke-width="0.28" x="71.40" y="106.00" font-size="10.8" text-anchor="middle" fill="#111" font-family='"Liberation Sans", sans-serif' letter-spacing="-0.3" >0</text>
<text stroke="#111" stroke-width="0.28" x="102.90" y="106.00" font-size="10.8" text-anchor="middle" fill="#111" font-family='"Liberation Sans", sans-serif' letter-spacing="-0.3" >5</text>
<text stroke="#111" stroke-width="0.28" x="134.40" y="106.00" font-size="10.8" text-anchor="middle" fill="#111" font-family='"Liberation Sans", sans-serif' letter-spacing="-0.3" >10</text>
<text stroke="#111" stroke-width="0.28" x="165.90" y="106.00" font-size="10.8" text-anchor="middle" fill="#111" font-family='"Liberation Sans", sans-serif' letter-spacing="-0.3" >15</text>
<text stroke="#111" stroke-width="0.28" x="123.80" y="120.40" font-size="14.0" text-anchor="middle" fill="#111" font-family='"Liberation Sans", sans-serif' letter-spacing="0.4" >NP, wt%</text>
<text stroke="#111" stroke-width="0.28" transform="translate(206.8,52.3) rotate(-90)" font-size="13.5" text-anchor="middle" fill="#111" font-family='"Liberation Sans", sans-serif' letter-spacing="0.4">G<tspan font-size="7.5" dy="4.5" dx="0.5">0</tspan><tspan dy="-4.5">, Pa</tspan></text>
<path d="M71.5,88.5 C92,69.5 108,54.5 118.6,44.9 C126,38 131,33.2 138,29.2 C147,24.3 156,21.4 165.6,20.3" fill="none" stroke="#000" stroke-width="1.2"/>
<polygon points="71.50,84.50 75.50,88.50 71.50,92.50 67.50,88.50" fill="#000"/>
<polygon points="102.60,55.50 106.60,59.50 102.60,63.50 98.60,59.50" fill="#000"/>
<polygon points="118.20,41.20 122.20,45.20 118.20,49.20 114.20,45.20" fill="#000"/>
<polygon points="134.00,24.10 138.00,28.10 134.00,32.10 130.00,28.10" fill="#000"/>
<polygon points="165.90,16.50 169.90,20.50 165.90,24.50 161.90,20.50" fill="#000"/>
<text stroke="#ff0000" stroke-width="0.28" x="115.70" y="167.10" font-size="15.6" text-anchor="middle" fill="#ff0000" font-family='"Liberation Sans", sans-serif' >10</text>
<text stroke="#8a8a8a" stroke-width="0.28" x="122.20" y="200.50" font-size="15.6" text-anchor="middle" fill="#8a8a8a" font-family='"Liberation Sans", sans-serif' >5</text>
<text stroke="#008282" stroke-width="0.28" x="143.00" y="227.50" font-size="15.6" text-anchor="middle" fill="#008282" font-family='"Liberation Sans", sans-serif' >0</text>
<text stroke="#111" stroke-width="0.28" x="83.80" y="206.30" font-size="16" text-anchor="middle" fill="#111" font-family='"Liberation Sans", sans-serif' >NP</text>
<text stroke="#111" stroke-width="0.28" x="83.50" y="226.80" font-size="16" text-anchor="middle" fill="#111" font-family='"Liberation Sans", sans-serif' >wt%</text>
<path d="M121.5,223.5 L107.2,204 L101.6,187.5" fill="none" stroke="#000" stroke-width="1.3" stroke-linejoin="round"/>
<polygon points="99.2,180.8 98.3,189.0 103.6,187.3" fill="#000"/>
<text stroke="#111" stroke-width="0.08" x="8.00" y="26.00" font-size="24.5" text-anchor="start" fill="#111" font-family='"Liberation Serif", serif' >A</text>
<text stroke="#111" stroke-width="0.28" x="213.50" y="280.90" font-size="15.5" text-anchor="middle" fill="#111" font-family='"Liberation Sans", sans-serif' letter-spacing="0.35" >Frequency <tspan font-family='"Liberation Serif", serif'>&#969;</tspan>, rad/s</text>
<text stroke="#111" stroke-width="0.28" transform="translate(21.4,127.8) rotate(-90)" font-size="15" text-anchor="middle" fill="#111" font-family='"Liberation Sans", sans-serif' letter-spacing="0.45">G', G'', Pa</text>
<rect x="452.8" y="10.0" width="309.60" height="228.00" fill="none" stroke="#1a1a1a" stroke-width="1.1"/>
<line x1="472.40" y1="238.00" x2="472.40" y2="243.00" stroke="#1a1a1a" stroke-width="1.0"/>
<line x1="521.62" y1="238.00" x2="521.62" y2="243.00" stroke="#1a1a1a" stroke-width="1.0"/>
<line x1="570.84" y1="238.00" x2="570.84" y2="243.00" stroke="#1a1a1a" stroke-width="1.0"/>
<line x1="620.06" y1="238.00" x2="620.06" y2="243.00" stroke="#1a1a1a" stroke-width="1.0"/>
<line x1="669.28" y1="238.00" x2="669.28" y2="243.00" stroke="#1a1a1a" stroke-width="1.0"/>
<line x1="718.50" y1="238.00" x2="718.50" y2="243.00" stroke="#1a1a1a" stroke-width="1.0"/>
<line x1="452.81" y1="238.00" x2="452.81" y2="241.00" stroke="#1a1a1a" stroke-width="1.0"/>
<line x1="457.58" y1="238.00" x2="457.58" y2="241.00" stroke="#1a1a1a" stroke-width="1.0"/>
<line x1="461.48" y1="238.00" x2="461.48" y2="241.00" stroke="#1a1a1a" stroke-width="1.0"/>
<line x1="464.78" y1="238.00" x2="464.78" y2="241.00" stroke="#1a1a1a" stroke-width="1.0"/>
<line x1="467.63" y1="238.00" x2="467.63" y2="241.00" stroke="#1a1a1a" stroke-width="1.0"/>
<line x1="470.15" y1="238.00" x2="470.15" y2="241.00" stroke="#1a1a1a" stroke-width="1.0"/>
<line x1="487.22" y1="238.00" x2="487.22" y2="241.00" stroke="#1a1a1a" stroke-width="1.0"/>
<line x1="495.88" y1="238.00" x2="495.88" y2="241.00" stroke="#1a1a1a" stroke-width="1.0"/>
<line x1="502.03" y1="238.00" x2="502.03" y2="241.00" stroke="#1a1a1a" stroke-width="1.0"/>
<line x1="506.80" y1="238.00" x2="506.80" y2="241.00" stroke="#1a1a1a" stroke-width="1.0"/>
<line x1="510.70" y1="238.00" x2="510.70" y2="241.00" stroke="#1a1a1a" stroke-width="1.0"/>
<line x1="514.00" y1="238.00" x2="514.00" y2="241.00" stroke="#1a1a1a" stroke-width="1.0"/>
<line x1="516.85" y1="238.00" x2="516.85" y2="241.00" stroke="#1a1a1a" stroke-width="1.0"/>
<line x1="519.37" y1="238.00" x2="519.37" y2="241.00" stroke="#1a1a1a" stroke-width="1.0"/>
<line x1="536.44" y1="238.00" x2="536.44" y2="241.00" stroke="#1a1a1a" stroke-width="1.0"/>
<line x1="545.10" y1="238.00" x2="545.10" y2="241.00" stroke="#1a1a1a" stroke-width="1.0"/>
<line x1="551.25" y1="238.00" x2="551.25" y2="241.00" stroke="#1a1a1a" stroke-width="1.0"/>
<line x1="556.02" y1="238.00" x2="556.02" y2="241.00" stroke="#1a1a1a" stroke-width="1.0"/>
<line x1="559.92" y1="238.00" x2="559.92" y2="241.00" stroke="#1a1a1a" stroke-width="1.0"/>
<line x1="563.22" y1="238.00" x2="563.22" y2="241.00" stroke="#1a1a1a" stroke-width="1.0"/>
<line x1="566.07" y1="238.00" x2="566.07" y2="241.00" stroke="#1a1a1a" stroke-width="1.0"/>
<line x1="568.59" y1="238.00" x2="568.59" y2="241.00" stroke="#1a1a1a" stroke-width="1.0"/>
<line x1="585.66" y1="238.00" x2="585.66" y2="241.00" stroke="#1a1a1a" stroke-width="1.0"/>
<line x1="594.32" y1="238.00" x2="594.32" y2="241.00" stroke="#1a1a1a" stroke-width="1.0"/>
<line x1="600.47" y1="238.00" x2="600.47" y2="241.00" stroke="#1a1a1a" stroke-width="1.0"/>
<line x1="605.24" y1="238.00" x2="605.24" y2="241.00" stroke="#1a1a1a" stroke-width="1.0"/>
<line x1="609.14" y1="238.00" x2="609.14" y2="241.00" stroke="#1a1a1a" stroke-width="1.0"/>
<line x1="612.44" y1="238.00" x2="612.44" y2="241.00" stroke="#1a1a1a" stroke-width="1.0"/>
<line x1="615.29" y1="238.00" x2="615.29" y2="241.00" stroke="#1a1a1a" stroke-width="1.0"/>
<line x1="617.81" y1="238.00" x2="617.81" y2="241.00" stroke="#1a1a1a" stroke-width="1.0"/>
<line x1="634.88" y1="238.00" x2="634.88" y2="241.00" stroke="#1a1a1a" stroke-width="1.0"/>
<line x1="643.54" y1="238.00" x2="643.54" y2="241.00" stroke="#1a1a1a" stroke-width="1.0"/>
<line x1="649.69" y1="238.00" x2="649.69" y2="241.00" stroke="#1a1a1a" stroke-width="1.0"/>
<line x1="654.46" y1="238.00" x2="654.46" y2="241.00" stroke="#1a1a1a" stroke-width="1.0"/>
<line x1="658.36" y1="238.00" x2="658.36" y2="241.00" stroke="#1a1a1a" stroke-width="1.0"/>
<line x1="661.66" y1="238.00" x2="661.66" y2="241.00" stroke="#1a1a1a" stroke-width="1.0"/>
<line x1="664.51" y1="238.00" x2="664.51" y2="241.00" stroke="#1a1a1a" stroke-width="1.0"/>
<line x1="667.03" y1="238.00" x2="667.03" y2="241.00" stroke="#1a1a1a" stroke-width="1.0"/>
<line x1="684.10" y1="238.00" x2="684.10" y2="241.00" stroke="#1a1a1a" stroke-width="1.0"/>
<line x1="692.76" y1="238.00" x2="692.76" y2="241.00" stroke="#1a1a1a" stroke-width="1.0"/>
<line x1="698.91" y1="238.00" x2="698.91" y2="241.00" stroke="#1a1a1a" stroke-width="1.0"/>
<line x1="703.68" y1="238.00" x2="703.68" y2="241.00" stroke="#1a1a1a" stroke-width="1.0"/>
<line x1="707.58" y1="238.00" x2="707.58" y2="241.00" stroke="#1a1a1a" stroke-width="1.0"/>
<line x1="710.88" y1="238.00" x2="710.88" y2="241.00" stroke="#1a1a1a" stroke-width="1.0"/>
<line x1="713.73" y1="238.00" x2="713.73" y2="241.00" stroke="#1a1a1a" stroke-width="1.0"/>
<line x1="716.25" y1="238.00" x2="716.25" y2="241.00" stroke="#1a1a1a" stroke-width="1.0"/>
<line x1="733.32" y1="238.00" x2="733.32" y2="241.00" stroke="#1a1a1a" stroke-width="1.0"/>
<line x1="741.98" y1="238.00" x2="741.98" y2="241.00" stroke="#1a1a1a" stroke-width="1.0"/>
<line x1="748.13" y1="238.00" x2="748.13" y2="241.00" stroke="#1a1a1a" stroke-width="1.0"/>
<line x1="752.90" y1="238.00" x2="752.90" y2="241.00" stroke="#1a1a1a" stroke-width="1.0"/>
<line x1="756.80" y1="238.00" x2="756.80" y2="241.00" stroke="#1a1a1a" stroke-width="1.0"/>
<line x1="760.10" y1="238.00" x2="760.10" y2="241.00" stroke="#1a1a1a" stroke-width="1.0"/>
<line x1="447.80" y1="202.90" x2="452.80" y2="202.90" stroke="#1a1a1a" stroke-width="1.0"/>
<line x1="447.80" y1="152.23" x2="452.80" y2="152.23" stroke="#1a1a1a" stroke-width="1.0"/>
<line x1="447.80" y1="101.56" x2="452.80" y2="101.56" stroke="#1a1a1a" stroke-width="1.0"/>
<line x1="447.80" y1="50.89" x2="452.80" y2="50.89" stroke="#1a1a1a" stroke-width="1.0"/>
<line x1="449.80" y1="229.39" x2="452.80" y2="229.39" stroke="#1a1a1a" stroke-width="1.0"/>
<line x1="449.80" y1="223.06" x2="452.80" y2="223.06" stroke="#1a1a1a" stroke-width="1.0"/>
<line x1="449.80" y1="218.15" x2="452.80" y2="218.15" stroke="#1a1a1a" stroke-width="1.0"/>
<line x1="449.80" y1="214.14" x2="452.80" y2="214.14" stroke="#1a1a1a" stroke-width="1.0"/>
<line x1="449.80" y1="210.75" x2="452.80" y2="210.75" stroke="#1a1a1a" stroke-width="1.0"/>
<line x1="449.80" y1="207.81" x2="452.80" y2="207.81" stroke="#1a1a1a" stroke-width="1.0"/>
<line x1="449.80" y1="205.22" x2="452.80" y2="205.22" stroke="#1a1a1a" stroke-width="1.0"/>
<line x1="449.80" y1="187.65" x2="452.80" y2="187.65" stroke="#1a1a1a" stroke-width="1.0"/>
<line x1="449.80" y1="178.72" x2="452.80" y2="178.72" stroke="#1a1a1a" stroke-width="1.0"/>
<line x1="449.80" y1="172.39" x2="452.80" y2="172.39" stroke="#1a1a1a" stroke-width="1.0"/>
<line x1="449.80" y1="167.48" x2="452.80" y2="167.48" stroke="#1a1a1a" stroke-width="1.0"/>
<line x1="449.80" y1="163.47" x2="452.80" y2="163.47" stroke="#1a1a1a" stroke-width="1.0"/>
<line x1="449.80" y1="160.08" x2="452.80" y2="160.08" stroke="#1a1a1a" stroke-width="1.0"/>
<line x1="449.80" y1="157.14" x2="452.80" y2="157.14" stroke="#1a1a1a" stroke-width="1.0"/>
<line x1="449.80" y1="154.55" x2="452.80" y2="154.55" stroke="#1a1a1a" stroke-width="1.0"/>
<line x1="449.80" y1="136.98" x2="452.80" y2="136.98" stroke="#1a1a1a" stroke-width="1.0"/>
<line x1="449.80" y1="128.05" x2="452.80" y2="128.05" stroke="#1a1a1a" stroke-width="1.0"/>
<line x1="449.80" y1="121.72" x2="452.80" y2="121.72" stroke="#1a1a1a" stroke-width="1.0"/>
<line x1="449.80" y1="116.81" x2="452.80" y2="116.81" stroke="#1a1a1a" stroke-width="1.0"/>
<line x1="449.80" y1="112.80" x2="452.80" y2="112.80" stroke="#1a1a1a" stroke-width="1.0"/>
<line x1="449.80" y1="109.41" x2="452.80" y2="109.41" stroke="#1a1a1a" stroke-width="1.0"/>
<line x1="449.80" y1="106.47" x2="452.80" y2="106.47" stroke="#1a1a1a" stroke-width="1.0"/>
<line x1="449.80" y1="103.88" x2="452.80" y2="103.88" stroke="#1a1a1a" stroke-width="1.0"/>
<line x1="449.80" y1="86.31" x2="452.80" y2="86.31" stroke="#1a1a1a" stroke-width="1.0"/>
<line x1="449.80" y1="77.38" x2="452.80" y2="77.38" stroke="#1a1a1a" stroke-width="1.0"/>
<line x1="449.80" y1="71.05" x2="452.80" y2="71.05" stroke="#1a1a1a" stroke-width="1.0"/>
<line x1="449.80" y1="66.14" x2="452.80" y2="66.14" stroke="#1a1a1a" stroke-width="1.0"/>
<line x1="449.80" y1="62.13" x2="452.80" y2="62.13" stroke="#1a1a1a" stroke-width="1.0"/>
<line x1="449.80" y1="58.74" x2="452.80" y2="58.74" stroke="#1a1a1a" stroke-width="1.0"/>
<line x1="449.80" y1="55.80" x2="452.80" y2="55.80" stroke="#1a1a1a" stroke-width="1.0"/>
<line x1="449.80" y1="53.21" x2="452.80" y2="53.21" stroke="#1a1a1a" stroke-width="1.0"/>
<line x1="449.80" y1="35.64" x2="452.80" y2="35.64" stroke="#1a1a1a" stroke-width="1.0"/>
<line x1="449.80" y1="26.71" x2="452.80" y2="26.71" stroke="#1a1a1a" stroke-width="1.0"/>
<line x1="449.80" y1="20.38" x2="452.80" y2="20.38" stroke="#1a1a1a" stroke-width="1.0"/>
<line x1="449.80" y1="15.47" x2="452.80" y2="15.47" stroke="#1a1a1a" stroke-width="1.0"/>
<line x1="449.80" y1="11.46" x2="452.80" y2="11.46" stroke="#1a1a1a" stroke-width="1.0"/>
<text stroke="#111" stroke-width="0.28" x="472.40" y="258.8" font-size="12.5" text-anchor="middle" fill="#111" font-family='"Liberation Sans", sans-serif'>10<tspan font-size="8" dy="-6.3" dx="0.4">-3</tspan></text>
<text stroke="#111" stroke-width="0.28" x="521.62" y="258.8" font-size="12.5" text-anchor="middle" fill="#111" font-family='"Liberation Sans", sans-serif'>10<tspan font-size="8" dy="-6.3" dx="0.4">-2</tspan></text>
<text stroke="#111" stroke-width="0.28" x="570.84" y="258.8" font-size="12.5" text-anchor="middle" fill="#111" font-family='"Liberation Sans", sans-serif'>10<tspan font-size="8" dy="-6.3" dx="0.4">-1</tspan></text>
<text stroke="#111" stroke-width="0.28" x="620.06" y="258.8" font-size="12.5" text-anchor="middle" fill="#111" font-family='"Liberation Sans", sans-serif'>10<tspan font-size="8" dy="-6.3" dx="0.4">0</tspan></text>
<text stroke="#111" stroke-width="0.28" x="669.28" y="258.8" font-size="12.5" text-anchor="middle" fill="#111" font-family='"Liberation Sans", sans-serif'>10<tspan font-size="8" dy="-6.3" dx="0.4">1</tspan></text>
<text stroke="#111" stroke-width="0.28" x="718.50" y="258.8" font-size="12.5" text-anchor="middle" fill="#111" font-family='"Liberation Sans", sans-serif'>10<tspan font-size="8" dy="-6.3" dx="0.4">2</tspan></text>
<text stroke="#111" stroke-width="0.28" x="444.80" y="208.10" font-size="12.5" text-anchor="end" fill="#111" font-family='"Liberation Sans", sans-serif' >1</text>
<text stroke="#111" stroke-width="0.28" x="444.80" y="157.43" font-size="12.5" text-anchor="end" fill="#111" font-family='"Liberation Sans", sans-serif' >10</text>
<text stroke="#111" stroke-width="0.28" x="444.80" y="106.76" font-size="12.5" text-anchor="end" fill="#111" font-family='"Liberation Sans", sans-serif' >100</text>
<text stroke="#111" stroke-width="0.28" x="444.80" y="56.09" font-size="12.5" text-anchor="end" fill="#111" font-family='"Liberation Sans", sans-serif' >1000</text>
<path d="M490.87,26.57L496.19,27.33M502.78,28.89L508.78,30.91M515.04,33.53L518.86,35.47M524.73,38.87L529.06,41.73M534.67,45.57L539.13,48.73M544.54,52.86L549.28,56.74M554.49,61.12L559.34,65.28M564.44,69.77L569.39,74.23M574.46,78.76L579.38,83.14M584.39,87.74L589.46,92.56M594.38,97.25L599.48,102.15M604.52,106.70L609.35,110.80M614.44,115.30L619.44,119.90M624.60,124.32L629.29,128.08M634.43,132.53L639.47,137.27M644.56,141.79L649.35,145.81M654.48,150.27L659.43,154.73M664.50,159.26L669.43,163.64M674.53,168.13L679.40,172.37M684.56,176.80L689.38,180.90M694.55,185.32L699.40,189.48M704.47,194.01L709.49,198.69" fill="none" stroke="#555555" stroke-width="0.65"/>
<path d="M502.87,46.15L508.69,47.45M515.06,49.68L518.84,51.52M525.01,54.37L528.79,56.03M534.92,58.97L538.89,61.03M544.74,64.47L549.07,67.33M554.62,71.26L559.21,74.74M564.49,79.02L569.34,83.18M574.55,87.56L579.29,91.44M584.35,95.98L589.50,101.02M594.47,105.66L599.39,110.04M604.47,114.56L609.40,118.94M614.59,123.32L619.29,127.08M624.48,131.46L629.41,135.84M634.49,140.36L639.41,144.74M644.58,149.16L649.33,153.04M654.55,157.40L659.37,161.50M664.57,165.89L669.36,169.91M674.58,174.27L679.35,178.23M684.77,182.33L689.18,185.37M694.44,189.64L699.51,194.46M704.58,198.99L709.38,203.01" fill="none" stroke="#555555" stroke-width="0.65"/>
<path d="M515.40,74.67L518.50,74.83M525.19,75.86L528.61,76.74M535.01,78.97L538.79,80.63M544.95,83.52L548.87,85.48M554.90,88.61L558.92,90.79M564.81,94.19L569.03,96.81M574.59,100.71L579.26,104.39M584.46,108.76L589.39,113.14M594.61,117.49L599.25,121.11M604.55,125.37L609.32,129.33M614.58,133.64L619.30,137.46M624.55,141.79L629.34,145.81M634.56,150.17L639.34,154.13M644.65,158.37L649.26,161.93M654.64,166.09L659.28,169.71M664.54,174.02L669.39,178.18M674.54,182.62L679.39,186.78M684.45,191.33L689.50,196.07M694.33,200.85L699.62,206.35M704.87,210.59L709.09,213.21" fill="none" stroke="#555555" stroke-width="0.65"/>
<polygon points="512.00,71.75 508.85,77.25 515.15,77.25" fill="#007b7b" stroke="#0a3a3a" stroke-width="0.8" stroke-linejoin="miter"/>
<polygon points="521.90,72.25 518.75,77.75 525.05,77.75" fill="#007b7b" stroke="#0a3a3a" stroke-width="0.8" stroke-linejoin="miter"/>
<polygon points="531.90,74.85 528.75,80.35 535.05,80.35" fill="#007b7b" stroke="#0a3a3a" stroke-width="0.8" stroke-linejoin="miter"/>
<polygon points="541.91,79.25 538.76,84.75 545.06,84.75" fill="#007b7b" stroke="#0a3a3a" stroke-width="0.8" stroke-linejoin="miter"/>
<polygon points="551.91,84.25 548.76,89.75 555.06,89.75" fill="#007b7b" stroke="#0a3a3a" stroke-width="0.8" stroke-linejoin="miter"/>
<polygon points="561.92,89.65 558.77,95.15 565.07,95.15" fill="#007b7b" stroke="#0a3a3a" stroke-width="0.8" stroke-linejoin="miter"/>
<polygon points="571.92,95.85 568.77,101.35 575.07,101.35" fill="#007b7b" stroke="#0a3a3a" stroke-width="0.8" stroke-linejoin="miter"/>
<polygon points="581.92,103.75 578.77,109.25 585.07,109.25" fill="#007b7b" stroke="#0a3a3a" stroke-width="0.8" stroke-linejoin="miter"/>
<polygon points="591.93,112.65 588.78,118.15 595.08,118.15" fill="#007b7b" stroke="#0a3a3a" stroke-width="0.8" stroke-linejoin="miter"/>
<polygon points="601.93,120.45 598.78,125.95 605.08,125.95" fill="#007b7b" stroke="#0a3a3a" stroke-width="0.8" stroke-linejoin="miter"/>
<polygon points="611.94,128.75 608.79,134.25 615.09,134.25" fill="#007b7b" stroke="#0a3a3a" stroke-width="0.8" stroke-linejoin="miter"/>
<polygon points="621.94,136.85 618.79,142.35 625.09,142.35" fill="#007b7b" stroke="#0a3a3a" stroke-width="0.8" stroke-linejoin="miter"/>
<polygon points="631.95,145.25 628.80,150.75 635.10,150.75" fill="#007b7b" stroke="#0a3a3a" stroke-width="0.8" stroke-linejoin="miter"/>
<polygon points="641.95,153.55 638.80,159.05 645.10,159.05" fill="#007b7b" stroke="#0a3a3a" stroke-width="0.8" stroke-linejoin="miter"/>
<polygon points="651.96,161.25 648.81,166.75 655.11,166.75" fill="#007b7b" stroke="#0a3a3a" stroke-width="0.8" stroke-linejoin="miter"/>
<polygon points="661.96,169.05 658.81,174.55 665.11,174.55" fill="#007b7b" stroke="#0a3a3a" stroke-width="0.8" stroke-linejoin="miter"/>
<polygon points="671.97,177.65 668.82,183.15 675.12,183.15" fill="#007b7b" stroke="#0a3a3a" stroke-width="0.8" stroke-linejoin="miter"/>
<polygon points="681.97,186.25 678.82,191.75 685.12,191.75" fill="#007b7b" stroke="#0a3a3a" stroke-width="0.8" stroke-linejoin="miter"/>
<polygon points="691.98,195.65 688.83,201.15 695.13,201.15" fill="#007b7b" stroke="#0a3a3a" stroke-width="0.8" stroke-linejoin="miter"/>
<polygon points="701.98,206.05 698.83,211.55 705.13,211.55" fill="#007b7b" stroke="#0a3a3a" stroke-width="0.8" stroke-linejoin="miter"/>
<polygon points="711.98,212.25 708.83,217.75 715.13,217.75" fill="#007b7b" stroke="#0a3a3a" stroke-width="0.8" stroke-linejoin="miter"/>
<polygon points="487.50,23.35 484.35,28.85 490.65,28.85" fill="#ff0000" stroke="#7a1010" stroke-width="0.8" stroke-linejoin="miter"/>
<polygon points="499.56,25.05 496.41,30.55 502.71,30.55" fill="#ff0000" stroke="#7a1010" stroke-width="0.8" stroke-linejoin="miter"/>
<polygon points="512.00,29.25 508.85,34.75 515.15,34.75" fill="#ff0000" stroke="#7a1010" stroke-width="0.8" stroke-linejoin="miter"/>
<polygon points="521.90,34.25 518.75,39.75 525.05,39.75" fill="#ff0000" stroke="#7a1010" stroke-width="0.8" stroke-linejoin="miter"/>
<polygon points="531.90,40.85 528.75,46.35 535.05,46.35" fill="#ff0000" stroke="#7a1010" stroke-width="0.8" stroke-linejoin="miter"/>
<polygon points="541.91,47.95 538.76,53.45 545.06,53.45" fill="#ff0000" stroke="#7a1010" stroke-width="0.8" stroke-linejoin="miter"/>
<polygon points="551.91,56.15 548.76,61.65 555.06,61.65" fill="#ff0000" stroke="#7a1010" stroke-width="0.8" stroke-linejoin="miter"/>
<polygon points="561.92,64.75 558.77,70.25 565.07,70.25" fill="#ff0000" stroke="#7a1010" stroke-width="0.8" stroke-linejoin="miter"/>
<polygon points="571.92,73.75 568.77,79.25 575.07,79.25" fill="#ff0000" stroke="#7a1010" stroke-width="0.8" stroke-linejoin="miter"/>
<polygon points="581.92,82.65 578.77,88.15 585.07,88.15" fill="#ff0000" stroke="#7a1010" stroke-width="0.8" stroke-linejoin="miter"/>
<polygon points="591.93,92.15 588.78,97.65 595.08,97.65" fill="#ff0000" stroke="#7a1010" stroke-width="0.8" stroke-linejoin="miter"/>
<polygon points="601.93,101.75 598.78,107.25 605.08,107.25" fill="#ff0000" stroke="#7a1010" stroke-width="0.8" stroke-linejoin="miter"/>
<polygon points="611.94,110.25 608.79,115.75 615.09,115.75" fill="#ff0000" stroke="#7a1010" stroke-width="0.8" stroke-linejoin="miter"/>
<polygon points="621.94,119.45 618.79,124.95 625.09,124.95" fill="#ff0000" stroke="#7a1010" stroke-width="0.8" stroke-linejoin="miter"/>
<polygon points="631.95,127.45 628.80,132.95 635.10,132.95" fill="#ff0000" stroke="#7a1010" stroke-width="0.8" stroke-linejoin="miter"/>
<polygon points="641.95,136.85 638.80,142.35 645.10,142.35" fill="#ff0000" stroke="#7a1010" stroke-width="0.8" stroke-linejoin="miter"/>
<polygon points="651.96,145.25 648.81,150.75 655.11,150.75" fill="#ff0000" stroke="#7a1010" stroke-width="0.8" stroke-linejoin="miter"/>
<polygon points="661.96,154.25 658.81,159.75 665.11,159.75" fill="#ff0000" stroke="#7a1010" stroke-width="0.8" stroke-linejoin="miter"/>
<polygon points="671.97,163.15 668.82,168.65 675.12,168.65" fill="#ff0000" stroke="#7a1010" stroke-width="0.8" stroke-linejoin="miter"/>
<polygon points="681.97,171.85 678.82,177.35 685.12,177.35" fill="#ff0000" stroke="#7a1010" stroke-width="0.8" stroke-linejoin="miter"/>
<polygon points="691.98,180.35 688.83,185.85 695.13,185.85" fill="#ff0000" stroke="#7a1010" stroke-width="0.8" stroke-linejoin="miter"/>
<polygon points="701.98,188.95 698.83,194.45 705.13,194.45" fill="#ff0000" stroke="#7a1010" stroke-width="0.8" stroke-linejoin="miter"/>
<polygon points="711.98,198.25 708.83,203.75 715.13,203.75" fill="#ff0000" stroke="#7a1010" stroke-width="0.8" stroke-linejoin="miter"/>
<polygon points="499.56,42.65 496.41,48.15 502.71,48.15" fill="#c4c4c4" stroke="#6a6a6a" stroke-width="0.8" stroke-linejoin="miter"/>
<polygon points="512.00,45.45 508.85,50.95 515.15,50.95" fill="#c4c4c4" stroke="#6a6a6a" stroke-width="0.8" stroke-linejoin="miter"/>
<polygon points="521.90,50.25 518.75,55.75 525.05,55.75" fill="#c4c4c4" stroke="#6a6a6a" stroke-width="0.8" stroke-linejoin="miter"/>
<polygon points="531.90,54.65 528.75,60.15 535.05,60.15" fill="#c4c4c4" stroke="#6a6a6a" stroke-width="0.8" stroke-linejoin="miter"/>
<polygon points="541.91,59.85 538.76,65.35 545.06,65.35" fill="#c4c4c4" stroke="#6a6a6a" stroke-width="0.8" stroke-linejoin="miter"/>
<polygon points="551.91,66.45 548.76,71.95 555.06,71.95" fill="#c4c4c4" stroke="#6a6a6a" stroke-width="0.8" stroke-linejoin="miter"/>
<polygon points="561.92,74.05 558.77,79.55 565.07,79.55" fill="#c4c4c4" stroke="#6a6a6a" stroke-width="0.8" stroke-linejoin="miter"/>
<polygon points="571.92,82.65 568.77,88.15 575.07,88.15" fill="#c4c4c4" stroke="#6a6a6a" stroke-width="0.8" stroke-linejoin="miter"/>
<polygon points="581.92,90.85 578.77,96.35 585.07,96.35" fill="#c4c4c4" stroke="#6a6a6a" stroke-width="0.8" stroke-linejoin="miter"/>
<polygon points="591.93,100.65 588.78,106.15 595.08,106.15" fill="#c4c4c4" stroke="#6a6a6a" stroke-width="0.8" stroke-linejoin="miter"/>
<polygon points="601.93,109.55 598.78,115.05 605.08,115.05" fill="#c4c4c4" stroke="#6a6a6a" stroke-width="0.8" stroke-linejoin="miter"/>
<polygon points="611.94,118.45 608.79,123.95 615.09,123.95" fill="#c4c4c4" stroke="#6a6a6a" stroke-width="0.8" stroke-linejoin="miter"/>
<polygon points="621.94,126.45 618.79,131.95 625.09,131.95" fill="#c4c4c4" stroke="#6a6a6a" stroke-width="0.8" stroke-linejoin="miter"/>
<polygon points="631.95,135.35 628.80,140.85 635.10,140.85" fill="#c4c4c4" stroke="#6a6a6a" stroke-width="0.8" stroke-linejoin="miter"/>
<polygon points="641.95,144.25 638.80,149.75 645.10,149.75" fill="#c4c4c4" stroke="#6a6a6a" stroke-width="0.8" stroke-linejoin="miter"/>
<polygon points="651.96,152.45 648.81,157.95 655.11,157.95" fill="#c4c4c4" stroke="#6a6a6a" stroke-width="0.8" stroke-linejoin="miter"/>
<polygon points="661.96,160.95 658.81,166.45 665.11,166.45" fill="#c4c4c4" stroke="#6a6a6a" stroke-width="0.8" stroke-linejoin="miter"/>
<polygon points="671.97,169.35 668.82,174.85 675.12,174.85" fill="#c4c4c4" stroke="#6a6a6a" stroke-width="0.8" stroke-linejoin="miter"/>
<polygon points="681.97,177.65 678.82,183.15 685.12,183.15" fill="#c4c4c4" stroke="#6a6a6a" stroke-width="0.8" stroke-linejoin="miter"/>
<polygon points="691.98,184.55 688.83,190.05 695.13,190.05" fill="#c4c4c4" stroke="#6a6a6a" stroke-width="0.8" stroke-linejoin="miter"/>
<polygon points="701.98,194.05 698.83,199.55 705.13,199.55" fill="#c4c4c4" stroke="#6a6a6a" stroke-width="0.8" stroke-linejoin="miter"/>
<polygon points="711.98,202.45 708.83,207.95 715.13,207.95" fill="#c4c4c4" stroke="#6a6a6a" stroke-width="0.8" stroke-linejoin="miter"/>
<rect x="637.6" y="10.0" width="124.80" height="91.20" fill="#ffffff"/>
<line x1="637.60" y1="10.00" x2="637.60" y2="101.20" stroke="#333" stroke-width="0.9"/>
<line x1="637.60" y1="101.20" x2="762.40" y2="101.20" stroke="#333" stroke-width="0.9"/>
<line x1="452.80" y1="10.00" x2="762.40" y2="10.00" stroke="#1a1a1a" stroke-width="1.1"/>
<line x1="762.40" y1="10.00" x2="762.40" y2="238.00" stroke="#1a1a1a" stroke-width="1.1"/>
<line x1="650.70" y1="101.20" x2="650.70" y2="103.00" stroke="#555" stroke-width="0.7"/>
<line x1="650.70" y1="10.00" x2="650.70" y2="12.00" stroke="#555" stroke-width="0.7"/>
<line x1="667.20" y1="101.20" x2="667.20" y2="103.00" stroke="#555" stroke-width="0.7"/>
<line x1="667.20" y1="10.00" x2="667.20" y2="12.00" stroke="#555" stroke-width="0.7"/>
<line x1="683.70" y1="101.20" x2="683.70" y2="103.00" stroke="#555" stroke-width="0.7"/>
<line x1="683.70" y1="10.00" x2="683.70" y2="12.00" stroke="#555" stroke-width="0.7"/>
<line x1="700.20" y1="101.20" x2="700.20" y2="103.00" stroke="#555" stroke-width="0.7"/>
<line x1="700.20" y1="10.00" x2="700.20" y2="12.00" stroke="#555" stroke-width="0.7"/>
<line x1="716.70" y1="101.20" x2="716.70" y2="103.00" stroke="#555" stroke-width="0.7"/>
<line x1="716.70" y1="10.00" x2="716.70" y2="12.00" stroke="#555" stroke-width="0.7"/>
<line x1="733.20" y1="101.20" x2="733.20" y2="103.00" stroke="#555" stroke-width="0.7"/>
<line x1="733.20" y1="10.00" x2="733.20" y2="12.00" stroke="#555" stroke-width="0.7"/>
<line x1="749.70" y1="101.20" x2="749.70" y2="103.00" stroke="#555" stroke-width="0.7"/>
<line x1="749.70" y1="10.00" x2="749.70" y2="12.00" stroke="#555" stroke-width="0.7"/>
<line x1="637.60" y1="101.00" x2="639.60" y2="101.00" stroke="#444" stroke-width="0.8"/>
<text stroke="#111" stroke-width="0.28" x="635.60" y="104.60" font-size="10.3" text-anchor="end" fill="#111" font-family='"Liberation Sans", sans-serif' >0</text>
<line x1="637.60" y1="59.20" x2="639.60" y2="59.20" stroke="#444" stroke-width="0.8"/>
<text stroke="#111" stroke-width="0.28" x="635.60" y="62.80" font-size="10.3" text-anchor="end" fill="#111" font-family='"Liberation Sans", sans-serif' >2</text>
<line x1="637.60" y1="17.40" x2="639.60" y2="17.40" stroke="#444" stroke-width="0.8"/>
<text stroke="#111" stroke-width="0.28" x="635.60" y="21.00" font-size="10.3" text-anchor="end" fill="#111" font-family='"Liberation Sans", sans-serif' >4</text>
<line x1="637.60" y1="80.10" x2="639.40" y2="80.10" stroke="#555" stroke-width="0.7"/>
<line x1="637.60" y1="38.30" x2="639.40" y2="38.30" stroke="#555" stroke-width="0.7"/>
<text stroke="#111" stroke-width="0.28" x="650.70" y="113.30" font-size="10.8" text-anchor="middle" fill="#111" font-family='"Liberation Sans", sans-serif' letter-spacing="-0.3" >0</text>
<text stroke="#111" stroke-width="0.28" x="683.70" y="113.30" font-size="10.8" text-anchor="middle" fill="#111" font-family='"Liberation Sans", sans-serif' letter-spacing="-0.3" >5</text>
<text stroke="#111" stroke-width="0.28" x="716.70" y="113.30" font-size="10.8" text-anchor="middle" fill="#111" font-family='"Liberation Sans", sans-serif' letter-spacing="-0.3" >10</text>
<text stroke="#111" stroke-width="0.28" x="749.70" y="113.30" font-size="10.8" text-anchor="middle" fill="#111" font-family='"Liberation Sans", sans-serif' letter-spacing="-0.3" >15</text>
<text stroke="#111" stroke-width="0.28" x="705.80" y="127.30" font-size="14.3" text-anchor="middle" fill="#111" font-family='"Liberation Sans", sans-serif' letter-spacing="0.55" >NP, wt%</text>
<text stroke="#111" stroke-width="0.28" transform="translate(620.2,57.5) rotate(-90)" font-size="13.5" text-anchor="middle" fill="#111" font-family='"Liberation Sans", sans-serif' letter-spacing="-0.1"><tspan font-family='"Liberation Serif", serif' font-size="15.5">&#951;</tspan><tspan font-size="9" dy="3.5">0</tspan><tspan dy="-3.5">&#183;10</tspan><tspan font-size="9.5" dy="-6">-3</tspan><tspan dy="6">, Pa&#183;s</tspan></text>
<path d="M650.8,94.0 C667.03,85.07 682.73,73.68 699.5,44.4 C705.13,33.98 710.77,31.77 716.4,29.8 C727.2,26.02 738.0,26.2 748.8,26.0" fill="none" stroke="#000" stroke-width="1.15"/>
<rect x="647.90" y="90.50" width="6" height="6" fill="#000"/>
<rect x="680.00" y="70.00" width="6" height="6" fill="#000"/>
<rect x="696.90" y="41.30" width="6" height="6" fill="#000"/>
<rect x="713.40" y="24.10" width="6" height="6" fill="#000"/>
<rect x="746.10" y="23.20" width="6" height="6" fill="#000"/>
<text stroke="#ff0000" stroke-width="0.28" x="467.10" y="30.80" font-size="15.6" text-anchor="middle" fill="#ff0000" font-family='"Liberation Sans", sans-serif' >10</text>
<text stroke="#8a8a8a" stroke-width="0.28" x="478.20" y="52.00" font-size="15.6" text-anchor="middle" fill="#8a8a8a" font-family='"Liberation Sans", sans-serif' >5</text>
<text stroke="#008282" stroke-width="0.28" x="487.70" y="78.00" font-size="15.6" text-anchor="middle" fill="#008282" font-family='"Liberation Sans", sans-serif' >0</text>
<text stroke="#111" stroke-width="0.28" x="510.00" y="133.90" font-size="16" text-anchor="middle" fill="#111" font-family='"Liberation Sans", sans-serif' >NP</text>
<text stroke="#111" stroke-width="0.28" x="510.20" y="153.30" font-size="16" text-anchor="middle" fill="#111" font-family='"Liberation Sans", sans-serif' >wt%</text>
<line x1="501.5" y1="113.7" x2="493.5" y2="93.5" stroke="#000" stroke-width="1.2"/>
<polygon points="491.6,88.8 491.0,95.8 495.6,94.0" fill="#000"/>
<text stroke="#111" stroke-width="0.08" x="399.00" y="26.00" font-size="24.5" text-anchor="start" fill="#111" font-family='"Liberation Serif", serif' >B</text>
<text stroke="#111" stroke-width="0.28" x="607.90" y="281.40" font-size="15.5" text-anchor="middle" fill="#111" font-family='"Liberation Sans", sans-serif' letter-spacing="0.35" >Frequency <tspan font-family='"Liberation Serif", serif'>&#969;</tspan>, rad/s</text>
<text stroke="#111" stroke-width="0.28" transform="translate(411.6,123) rotate(-90)" font-size="15" text-anchor="middle" fill="#111" font-family='"Liberation Sans", sans-serif' letter-spacing="0.45">|<tspan font-family='"Liberation Serif", serif'>&#951;</tspan>*|, Pa&#183;s</text>
</svg>
</body></html>
